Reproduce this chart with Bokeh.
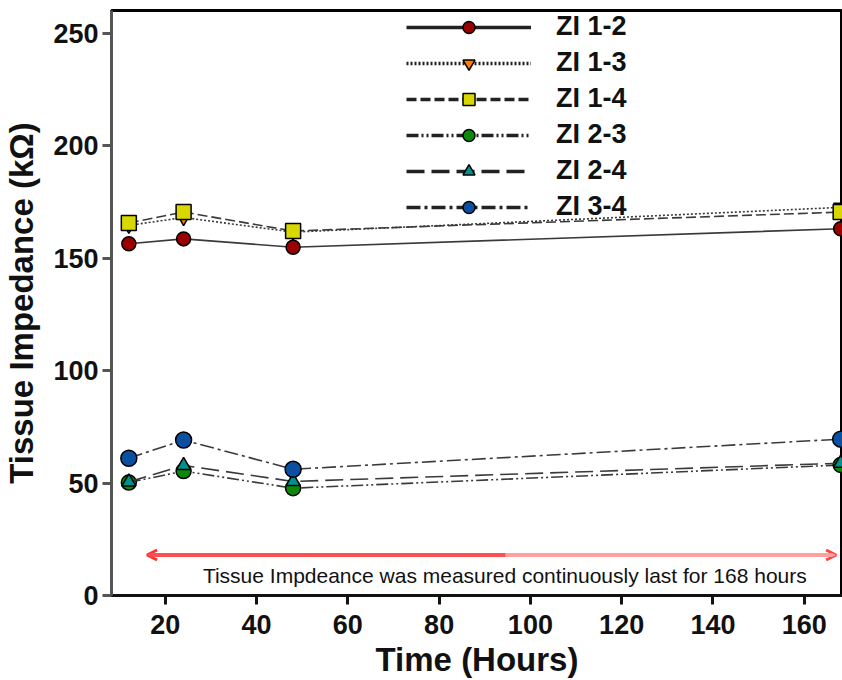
from bokeh.plotting import figure
from bokeh.models import Range1d, Legend, LegendItem, Arrow, OpenHead, Label
from bokeh.embed import file_html
from bokeh.resources import INLINE

hours = [12, 24, 48, 168]
zi_12 = [156.3, 158.5, 154.8, 163.0]
zi_13 = [164.5, 168.0, 161.5, 172.5]
zi_14 = [165.6, 170.4, 162.0, 170.4]
zi_23 = [50.2, 55.3, 47.7, 58.0]
zi_24 = [50.5, 57.8, 50.7, 58.8]
zi_34 = [61.0, 69.1, 56.1, 69.5]

series_names = ["ZI 1-2", "ZI 1-3", "ZI 1-4", "ZI 2-3", "ZI 2-4", "ZI 3-4"]
series_vals = [zi_12, zi_13, zi_14, zi_23, zi_24, zi_34]
markers = ["circle", "inverted_triangle", "square", "circle", "triangle", "circle"]
colors = ["#9a0000", "#ff7f00", "#d8d800", "#0a8a0a", "#009090", "#0b4fa0"]
dashes = ["solid", "2 2", "10 4", "12 3 2 3 2 3", "18 7", "14 4 3 4"]
sizes = [14, 14, 15, 15, 14, 16]

x_ticks = [20, 40, 60, 80, 100, 120, 140, 160]
y_ticks = [0, 50, 100, 150, 200, 250]

arrow_x = [16, 167]
arrow_split = 94.6
arrow_y = 18
note = "Tissue Impdeance was measured continuously last for 168 hours"

FONT = "Liberation Sans"
NAN = float("nan")

p = figure(width=842, height=680, output_backend="svg", toolbar_location=None,
           x_range=Range1d(8.2, 168.4), y_range=Range1d(0, 260),
           min_border_left=110, min_border_top=10, min_border_bottom=84, min_border_right=0)
p.grid.visible = False
p.outline_line_color = "black"
p.outline_line_width = 3
p.background_fill_color = "white"

for ax in (p.xaxis[0], p.yaxis[0]):
    ax.axis_line_width = 3
    ax.major_tick_line_width = 3
    ax.major_tick_out = 9
    ax.major_tick_in = 0
    ax.minor_tick_out = 0
    ax.minor_tick_in = 0
    ax.major_label_text_font = FONT
    ax.major_label_text_font_style = "bold"
    ax.major_label_text_font_size = "27px"
    ax.major_label_text_color = "#111111"
    ax.axis_label_text_font = FONT
    ax.axis_label_text_font_style = "bold"
    ax.axis_label_text_font_size = "33px"
    ax.axis_label_text_color = "#111111"

p.xaxis.ticker = x_ticks
p.yaxis.ticker = y_ticks
p.xaxis.axis_label = "Time (Hours)"
p.yaxis.axis_label = "Tissue Impedance (kΩ)"
p.xaxis.axis_line_color = "#111111"
p.xaxis.major_tick_line_color = "#111111"
p.yaxis.axis_line_color = "#555555"
p.yaxis.major_tick_line_color = "#555555"
p.yaxis.major_label_standoff = 4
p.yaxis.axis_label_standoff = 10
p.xaxis.major_label_standoff = 10
p.xaxis.axis_label_standoff = 4

items = []
for name, vals, mk, col, dash, sz in zip(series_names, series_vals, markers, colors, dashes, sizes):
    p.line(hours, vals, line_color="#3a3a3a", line_width=1.6, line_dash=dash)
    p.scatter(hours, vals, marker=mk, size=sz, fill_color=col, line_color="black", line_width=1.5)
    lg_line = p.line([NAN, NAN], [NAN, NAN], line_color="#222222", line_width=3.5, line_dash=dash)
    lg_mk = p.scatter([NAN], [NAN], marker=mk, size=sz + 2, fill_color=col, line_color="black", line_width=1.5)
    items.append(LegendItem(label=name, renderers=[lg_line, lg_mk]))

legend = Legend(items=items, location=(295, 373), orientation="vertical",
                glyph_width=125, glyph_height=30, label_height=30, spacing=5,
                label_standoff=25, padding=0, margin=0,
                border_line_color=None, background_fill_alpha=0,
                label_text_font=FONT, label_text_font_style="bold",
                label_text_font_size="27px", label_text_color="#111111")
p.add_layout(legend, "center")

p.add_layout(Arrow(start=None, end=OpenHead(size=10, line_color="#ff3333", line_width=3),
                   x_start=arrow_split, y_start=arrow_y, x_end=arrow_x[0], y_end=arrow_y,
                   line_color="#ff5050", line_width=4))
p.add_layout(Arrow(start=None, end=OpenHead(size=10, line_color="#ff4444", line_width=3),
                   x_start=arrow_split, y_start=arrow_y, x_end=arrow_x[1], y_end=arrow_y,
                   line_color="#ffa0a0", line_width=4))
p.add_layout(Label(x=94.4, y=9, text=note,
                   text_align="center", text_baseline="middle",
                   text_font=FONT, text_font_size="21px", text_color="#111111"))

open("out.html", "w").write(file_html(p, INLINE))
